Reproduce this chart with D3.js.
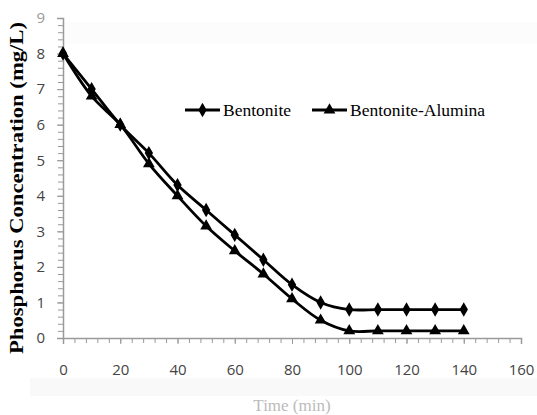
<!DOCTYPE html>
<html>
<head>
<meta charset="utf-8">
<script src="https://cdn.jsdelivr.net/npm/d3@7"></script>
<style>
body { margin: 0; background: #fff; }
</style>
</head>
<body>
<svg id="svg" width="537" height="415"></svg>
<script>
const times = [0, 10, 20, 30, 40, 50, 60, 70, 80, 90, 100, 110, 120, 130, 140];
const bentonite = [8, 7, 6, 5.2, 4.3, 3.6, 2.9, 2.2, 1.5, 1.0, 0.8, 0.8, 0.8, 0.8, 0.8];
const bentoniteAlumina = [8, 6.8, 6, 4.9, 4.0, 3.15, 2.45, 1.8, 1.1, 0.5, 0.2, 0.2, 0.2, 0.2, 0.2];
const xTicks = [0, 20, 40, 60, 80, 100, 120, 140, 160];
const yTicks = [0, 1, 2, 3, 4, 5, 6, 7, 8, 9];

const svg = d3.select("#svg");

// faint bands like the scanned original
svg.append("rect").attr("x", 60).attr("y", 22).attr("width", 477).attr("height", 22).attr("fill", "#fcfcfc");
svg.append("rect").attr("x", 30).attr("y", 378).attr("width", 507).attr("height", 18).attr("fill", "#f9f9f9");

const g = svg.append("g").attr("transform", "translate(63,18)");
const w = 458, h = 320;

const x = d3.scaleLinear().domain([0, 160]).range([0, w]);
const y = d3.scaleLinear().domain([0, 9]).range([h, 0]);

// minor ticks
g.append("g").attr("transform", `translate(0,${h})`)
  .call(d3.axisBottom(x).tickValues(d3.range(0, 161, 4)).tickSize(5).tickFormat(""))
  .call(a => a.select(".domain").remove())
  .selectAll("line").attr("stroke", "#9a9a9a");
g.append("g")
  .call(d3.axisLeft(y).tickValues(d3.range(0, 9.01, 0.2)).tickSize(5).tickFormat(""))
  .call(a => a.select(".domain").remove())
  .selectAll("line").attr("stroke", "#9a9a9a");

const xAxis = g.append("g").attr("transform", `translate(0,${h})`)
  .call(d3.axisBottom(x).tickValues(xTicks).tickSize(6).tickPadding(20));
xAxis.select(".domain").attr("stroke", "#9a9a9a").attr("stroke-width", 1.5);
xAxis.selectAll("line").attr("stroke", "#9a9a9a");
xAxis.selectAll("text").attr("fill", "#444").attr("font-family", "Open Sans, sans-serif").attr("font-size", 15);

const yAxis = g.append("g")
  .call(d3.axisLeft(y).tickValues(yTicks).tickSize(6).tickPadding(12));
yAxis.select(".domain").attr("stroke", "#9a9a9a").attr("stroke-width", 1.5);
yAxis.selectAll("line").attr("stroke", "#9a9a9a");
yAxis.selectAll("text").attr("fill", d => d === 9 ? "#999" : "#444")
  .attr("font-family", "Open Sans, sans-serif").attr("font-size", 15);

const line = d3.line().x(d => x(d[0])).y(d => y(d[1])).curve(d3.curveCatmullRom.alpha(0.5));

const series = [
  { name: "Bentonite", values: bentonite, symbol: d3.symbolDiamond, size: 60 },
  { name: "Bentonite-Alumina", values: bentoniteAlumina, symbol: d3.symbolTriangle, size: 60 }
];

series.forEach(s => {
  const pts = times.map((t, i) => [t, s.values[i]]);
  g.append("path").datum(pts).attr("d", line)
    .attr("fill", "none").attr("stroke", "#000").attr("stroke-width", 2.8);
  g.selectAll(null).data(pts).enter().append("path")
    .attr("d", d3.symbol().type(s.symbol).size(s.size))
    .attr("transform", d => `translate(${x(d[0])},${y(d[1])})`)
    .attr("fill", "#000");
});

// legend
const legend = svg.append("g").attr("transform", "translate(185,110)");
const legendX = [0, 127];
series.forEach((s, i) => {
  const lg = legend.append("g").attr("transform", `translate(${legendX[i]},0)`);
  lg.append("line").attr("x1", 0).attr("x2", 35).attr("stroke", "#000").attr("stroke-width", 2.8);
  lg.append("path").attr("d", d3.symbol().type(s.symbol).size(s.size))
    .attr("transform", "translate(17.5,0)").attr("fill", "#000");
  lg.append("text").attr("x", 38).attr("y", 6).text(s.name)
    .attr("font-family", "Liberation Serif, Times New Roman, serif").attr("font-size", 17.5).attr("fill", "#000");
});

// axis titles
svg.append("text")
  .attr("transform", "translate(23,188) rotate(-90)")
  .attr("text-anchor", "middle")
  .attr("font-family", "Liberation Serif, Times New Roman, serif")
  .attr("font-weight", "bold").attr("font-size", 18)
  .attr("textLength", 332).attr("lengthAdjust", "spacingAndGlyphs")
  .text("Phosphorus Concentration (mg/L)");

svg.append("text")
  .attr("x", 292).attr("y", 411)
  .attr("text-anchor", "middle")
  .attr("font-family", "Liberation Serif, Times New Roman, serif")
  .attr("font-size", 17).attr("fill", "#bbb")
  .text("Time (min)");
</script>
</body>
</html>
